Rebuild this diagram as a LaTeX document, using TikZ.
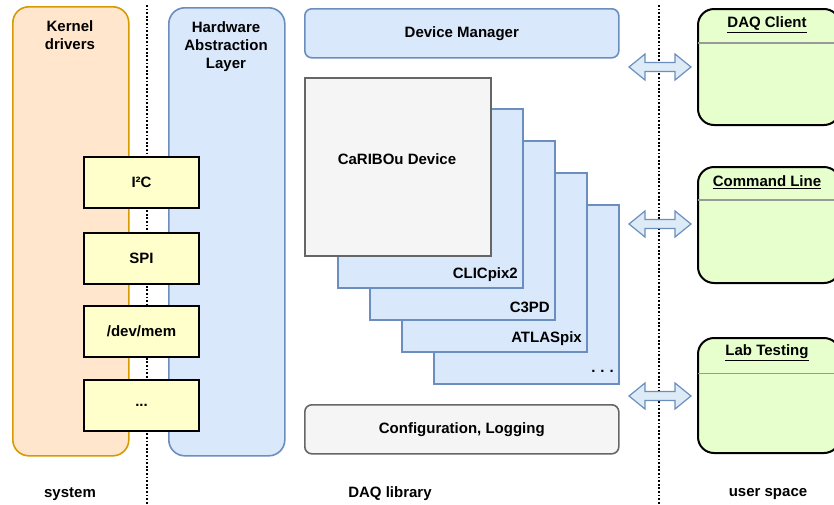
\documentclass[tikz,border=0pt]{standalone}
\usepackage{fontspec}
\setmainfont{Liberation Sans}
\usetikzlibrary{calc}
\definecolor{orfill}{HTML}{FFE6CC}
\definecolor{ordraw}{HTML}{D79B00}
\definecolor{blfill}{HTML}{DAE8FC}
\definecolor{bldraw}{HTML}{6C8EBF}
\definecolor{yefill}{HTML}{FFFFCC}
\definecolor{gyfill}{HTML}{F5F5F5}
\definecolor{gydraw}{HTML}{666666}
\definecolor{grfill}{HTML}{E6FFCC}
\definecolor{arfill}{HTML}{DCEBF5}
\tikzset{
  txt/.style={font=\fontsize{15}{18}\selectfont\bfseries, align=center, inner sep=0},
  column/.style={draw, line width=1.6pt, rounded corners=16pt, anchor=north west, inner sep=0},
  drvbox/.style={draw=black, fill=yefill, line width=2pt, anchor=north west, minimum width=115, minimum height=51, inner sep=0, font=\fontsize{15}{18}\selectfont\bfseries},
  stackbox/.style={draw=bldraw, fill=blfill, line width=1.6pt, anchor=north west, minimum width=185, minimum height=179, inner sep=0},
  libbox/.style={line width=1.6pt, rounded corners=7pt, anchor=north west, minimum width=314, minimum height=49, inner sep=0, font=\fontsize{15}{18}\selectfont\bfseries},
  userbox/.style={draw=black, fill=grfill, line width=2pt, rounded corners=16pt, anchor=north west, minimum width=142, inner sep=0},
  sep/.style={draw=black, line width=1.8pt, dash pattern=on 1.8pt off 1.8pt},
  hdr/.style={draw=black!40, line width=1.4pt},
  arrowshape/.style={draw=bldraw, fill=arfill, line width=1.2pt, line join=miter},
  pics/dblarrow/.style={code={
    \draw[arrowshape] (-31,0) -- (-15,-13) -- (-15,-4.5) -- (15,-4.5) -- (15,-13) -- (31,0) -- (15,13) -- (15,4.5) -- (-15,4.5) -- (-15,13) -- cycle;
  }}
}
\begin{document}
\begin{tikzpicture}[x=1pt,y=-1pt]
\useasboundingbox (0,0) rectangle (834,504);
% separators
\coordinate (sepAtop) at (147,5);
\coordinate (sepAbot) at (147,504);
\coordinate (sepBtop) at (659,5);
\coordinate (sepBbot) at (659,504);
% kernel drivers column
\node[column, draw=ordraw, fill=orfill, minimum width=116, minimum height=449] (kd) at (12,6) {};
\node[column, draw=bldraw, fill=blfill, minimum width=116, minimum height=448] (hal) at (168,7) {};
\draw[sep] (sepAtop) -- (sepAbot);
\node[txt] (kdt) at (70,35) {Kernel\\drivers};
\node[txt] (halt) at (226,47) {Hardware\\Abstraction\\Layer};
% driver boxes
\node[drvbox] (i2c) at (83,156) {I²C};
\node[drvbox] (spi) at (83,232) {SPI};
\node[drvbox] (mem) at (83,305) {/dev/mem};
\node[drvbox] (etc) at (83,379) {...};
% device manager
\node[libbox, draw=bldraw, fill=blfill] (dm) at (304,8) {Device Manager};
% stack
\node[stackbox] (s4) at (433,204) {};
\node[stackbox] (s3) at (401,172) {};
\node[stackbox] (s2) at (369,140) {};
\node[stackbox] (s1) at (337,108) {};
\node[draw=gydraw, fill=gyfill, line width=1.6pt, anchor=north west, minimum width=186, minimum height=178, inner sep=0] (cd) at (304,77) {};
\node[txt] (cdt) at (397,159) {CaRIBOu Device};
\node[txt, anchor=east] (l1) at (518,275) {CLICpix2};
\node[txt, anchor=east] (l2) at (550,307) {C3PD};
\node[txt, anchor=east] (l3) at (582,339) {ATLASpix};
\node[txt, anchor=east] (l4) at (614,371) {.\,\,.\,\,.};
% configuration
\node[libbox, draw=gydraw, fill=gyfill] (cfg) at (304,404) {Configuration, Logging};
% right separator
\draw[sep] (sepBtop) -- (sepBbot);
% arrows
\pic at (660,67) {dblarrow};
\pic at (660,224) {dblarrow};
\pic at (660,396) {dblarrow};
% user boxes
\node[userbox, minimum height=116] (dc) at (697,8) {};
\draw[hdr] ($(dc.west)+(1,-24)$) -- ($(dc.east)+(-1,-24)$);
\node[txt] (dct) at (767,25) {\underline{DAQ Client}};
\node[userbox, minimum height=116] (cl) at (697,166) {};
\draw[hdr] ($(cl.west)+(1,-25)$) -- ($(cl.east)+(-1,-25)$);
\node[txt] (clt) at (767,182) {\underline{Command Line}};
\node[userbox, minimum height=115] (lt) at (697,337) {};
\draw[hdr] ($(lt.west)+(1,-22)$) -- ($(lt.east)+(-1,-22)$);
\node[txt] (ltt) at (767,353) {\underline{Lab Testing}};
% bottom labels
\node[txt] (sys) at (70,494) {system};
\node[txt] (daq) at (390,494) {DAQ library};
\node[txt] (usr) at (768,494) {user space};
\end{tikzpicture}
\end{document}
